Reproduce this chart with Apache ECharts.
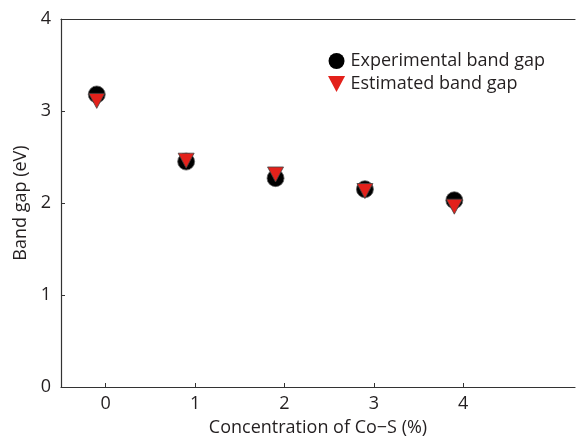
<!DOCTYPE html>
<html>
<head>
<meta charset="utf-8">
<script src="https://cdn.jsdelivr.net/npm/echarts@6/dist/echarts.min.js"></script>
<style>
  html, body { margin: 0; padding: 0; background: #fff; }
  #chart { width: 576px; height: 439px; }
</style>
</head>
<body>
<div id="chart"></div>
<script>
// concentration positions (points sit slightly left of the ticks)
const concentration = [-0.1, 0.9, 1.9, 2.9, 3.9];
const experimental = [3.18, 2.45, 2.27, 2.15, 2.03];
const estimated = [3.11, 2.46, 2.31, 2.13, 1.96];
const xTicks = [0, 1, 2, 3, 4];

const font = '"Open Sans", "Noto Sans", sans-serif';
const ink = '#231f20';
const downTriangle = 'path://M0,0 L16,0 L8,15 Z';

const chart = echarts.init(document.getElementById('chart'));
chart.setOption({
  animation: false,
  textStyle: { fontFamily: font, color: ink },
  grid: { left: 61, right: 1, top: 19, bottom: 52, outerBoundsMode: 'none', containLabel: false },
  legend: {
    orient: 'vertical',
    left: 323,
    top: 47,
    itemWidth: 18,
    itemHeight: 16,
    itemGap: 5,
    itemStyle: { borderWidth: 0 },
    textStyle: { fontSize: 18, color: ink, fontFamily: font },
    data: [
      { name: 'Experimental band gap', icon: 'circle' },
      { name: 'Estimated band gap', icon: downTriangle }
    ]
  },
  xAxis: [{
    type: 'value',
    min: -0.5,
    max: 5.25,
    interval: 0.5,
    name: 'Concentration of Co\u2212S (%)',
    nameLocation: 'middle',
    nameGap: 32,
    nameTextStyle: { fontSize: 18, color: ink },
    axisLine: { onZero: false, lineStyle: { color: '#333', width: 1.2 } },
    axisTick: {
      inside: true, length: 4,
      customValues: xTicks,
      lineStyle: { color: '#333' }
    },
    axisLabel: {
      customValues: xTicks,
      fontSize: 18, color: ink, margin: 8
    },
    splitLine: { show: false }
  }, {
    type: 'value',
    position: 'top',
    min: -0.5,
    max: 5.25,
    axisLine: { show: true, onZero: false, lineStyle: { color: '#333', width: 1.2 } },
    axisTick: { show: false },
    axisLabel: { show: false },
    splitLine: { show: false }
  }],
  yAxis: {
    type: 'value',
    min: 0,
    max: 4,
    interval: 1,
    name: 'Band gap (eV)',
    nameLocation: 'middle',
    nameGap: 30,
    nameTextStyle: { fontSize: 18, color: ink },
    axisLine: { show: true, onZero: false, lineStyle: { color: '#333', width: 1.2 } },
    axisTick: { show: true, inside: true, length: 4, lineStyle: { color: '#333' } },
    axisLabel: { fontSize: 18, color: ink, margin: 10 },
    splitLine: { show: false }
  },
  series: [{
    name: 'Experimental band gap',
    type: 'scatter',
    symbol: 'circle',
    symbolSize: 17,
    itemStyle: { color: '#000', borderColor: '#666', borderWidth: 0.8, opacity: 1 },
    data: concentration.map((x, i) => [x, experimental[i]]),
    z: 2
  }, {
    name: 'Estimated band gap',
    type: 'scatter',
    symbol: 'triangle',
    symbolRotate: 180,
    symbolSize: [16, 15],
    itemStyle: { color: '#e3211b', borderColor: '#444', borderWidth: 0.8, opacity: 1 },
    data: concentration.map((x, i) => [x, estimated[i]]),
    z: 3
  }]
});
</script>
</body>
</html>
